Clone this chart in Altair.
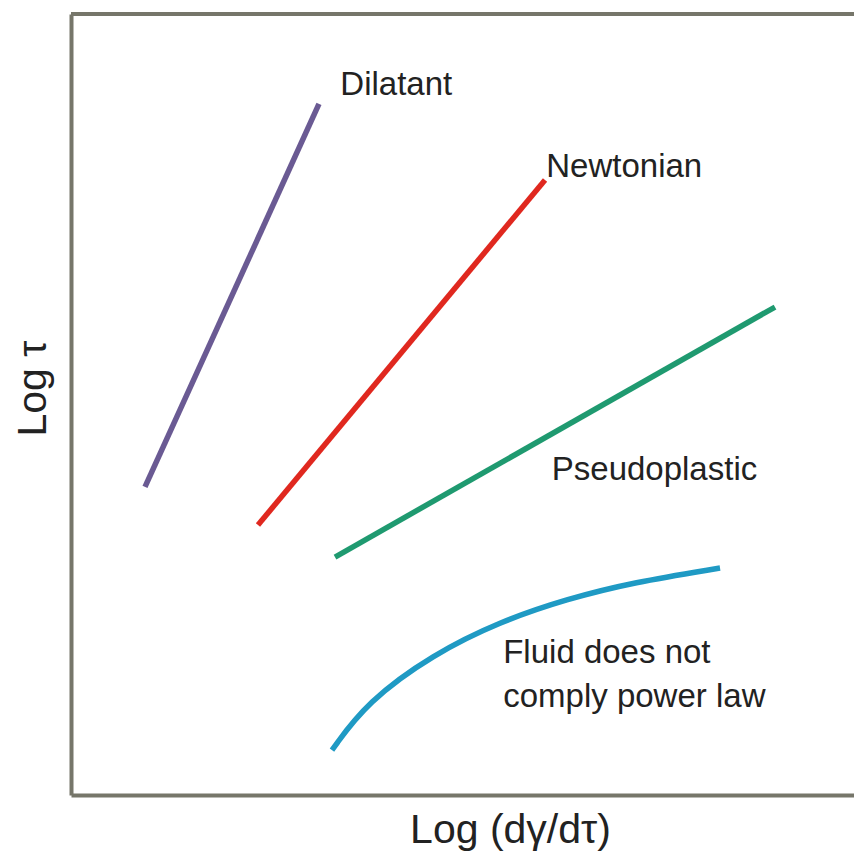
import altair as alt
import pandas as pd

# Straight power-law lines: end points in log-log units (x: log shear rate, y: log stress)
dil_x = [0.945, 3.167]
dil_y = [3.944, 8.848]
newt_x = [2.388, 6.054]
newt_y = [3.457, 7.875]
pseudo_x = [3.372, 8.991]
pseudo_y = [3.047, 6.248]

# Curve for a fluid that does not follow a power law
curve_x = [3.333, 3.780, 4.623, 5.479, 6.335, 7.178, 8.289]
curve_y = [0.576, 1.191, 1.800, 2.220, 2.510, 2.722, 2.906]

# Curve labels
label_text = ["Dilatant", "Newtonian", "Pseudoplastic", "Fluid does not", "comply power law"]
label_x = [3.44, 6.07, 6.14, 5.52, 5.52]
label_y = [8.963, 7.913, 4.033, 1.690, 1.127]

FONT = "Liberation Sans"
FRAME = "#76766a"

xs = alt.Scale(domain=[0, 10], nice=False, zero=False)
ys = alt.Scale(domain=[0, 10], nice=False, zero=False)

x_axis = alt.Axis(
    title="Log (dγ/dτ)", labels=False, ticks=False, grid=False,
    domain=True, domainColor=FRAME, domainWidth=4,
    titleFont=FONT, titleFontSize=41, titleFontWeight="normal", titleColor="#222222",
    titleBaseline="alphabetic", titleX=439, titleY=47, titleAnchor="middle",
)
y_axis = alt.Axis(
    title="Log τ", labels=False, ticks=False, grid=False,
    domain=True, domainColor=FRAME, domainWidth=4,
    titleFont=FONT, titleFontSize=41, titleFontWeight="normal", titleColor="#222222",
    titleAngle=-90, titleBaseline="alphabetic", titleX=-26, titleY=374, titleAlign="center",
)

X = alt.X("x:Q", scale=xs, axis=x_axis)
Y = alt.Y("y:Q", scale=ys, axis=y_axis)


def seg(xv, yv, color, interp="linear"):
    df = pd.DataFrame({"x": xv, "y": yv})
    return alt.Chart(df).mark_line(
        color=color, strokeWidth=5.5, strokeCap="butt", interpolate=interp
    ).encode(x=X, y=Y)


dilatant = seg(dil_x, dil_y, "#6a5a93")
newtonian = seg(newt_x, newt_y, "#e0281f")
pseudo = seg(pseudo_x, pseudo_y, "#1f9a70")
curve = seg(curve_x, curve_y, "#1f9ac4", interp="basis")

# Top edge of the frame
top_edge = alt.Chart(pd.DataFrame({"y": [10]})).mark_rule(
    color=FRAME, strokeWidth=4
).encode(y=Y)

labels = alt.Chart(
    pd.DataFrame({"t": label_text, "x": label_x, "y": label_y})
).mark_text(
    font=FONT, fontSize=33, align="left", baseline="alphabetic", color="#222222"
).encode(x=X, y=Y, text="t:N")

chart = alt.layer(dilatant, newtonian, pseudo, curve, top_edge, labels).properties(
    width=783,
    height=781,
    padding={"left": 71, "top": 14, "right": 0, "bottom": 60},
    autosize=alt.AutoSizeParams(type="none"),
    background="white",
).configure_view(stroke=None)

chart.save("out.html", embed_options={"renderer": "svg", "actions": False})
